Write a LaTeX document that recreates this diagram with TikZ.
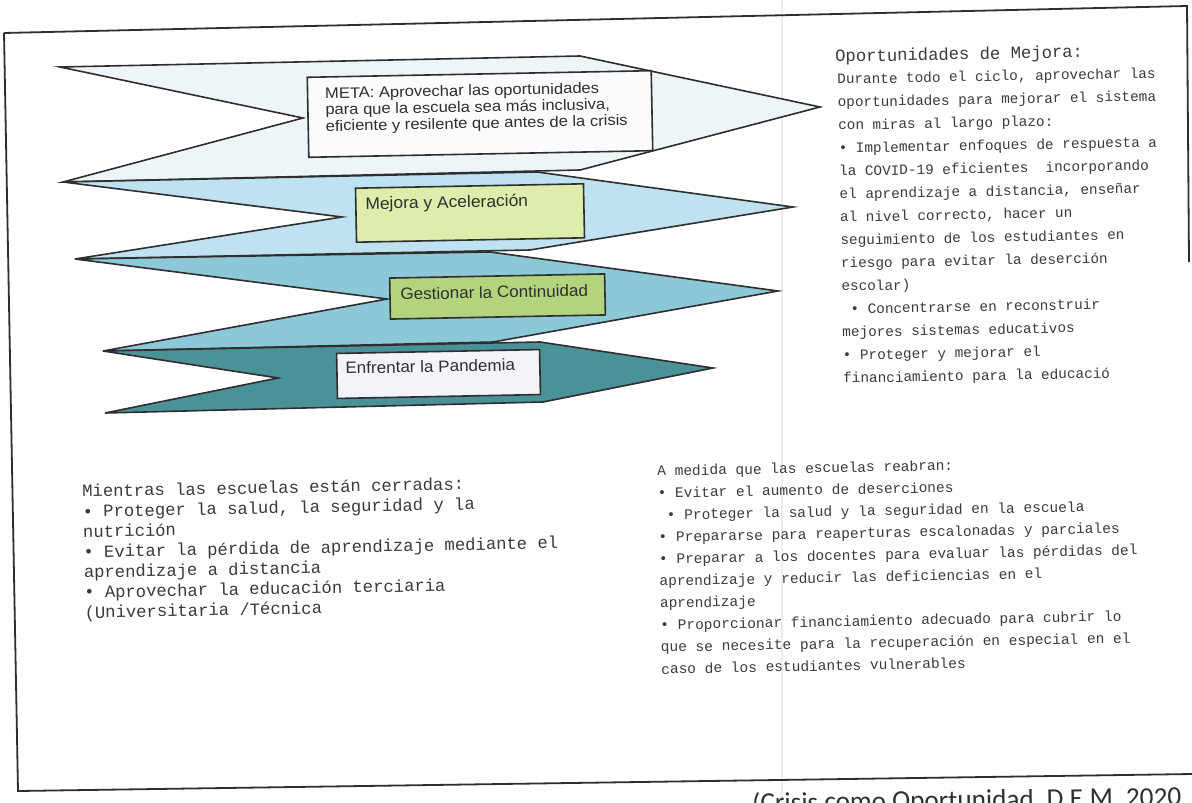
\documentclass[tikz,border=0pt]{standalone}
\usepackage{fontspec}
\setmainfont{Liberation Sans}
\newfontfamily\monofont{Liberation Mono}
\newfontfamily\citefont{Carlito}
\definecolor{cOne}{HTML}{EEF5F8}
\definecolor{cTwo}{HTML}{BEE2F0}
\definecolor{cThree}{HTML}{8DC8D8}
\definecolor{cFour}{HTML}{4A9298}
\definecolor{gLight}{HTML}{DDEDAB}
\definecolor{gMid}{HTML}{B4D37D}
\definecolor{boxWhite}{HTML}{FBFCF9}
\definecolor{boxLav}{HTML}{F3F4FA}
\definecolor{lineCol}{HTML}{2E2E2E}
\definecolor{txtCol}{HTML}{2F2F2F}
\definecolor{monoCol}{HTML}{3A3A3A}
\definecolor{foldCol}{HTML}{ECECEC}
\tikzset{
  chev/.style={draw=lineCol, line width=0.8pt, line join=miter},
  frameline/.style={draw=lineCol, line width=0.9pt},
  labbox/.style={draw=lineCol, line width=0.8pt, rotate=1.1, inner sep=0pt},
  boxtxt/.style={text=txtCol, rotate=1.1, inner sep=0pt, anchor=west, align=left},
  monobase/.style={text=monoCol, anchor=base west, inner sep=0pt, rotate=1.1},
  trhead/.style={monobase, font=\monofont\fontsize{8.6}{9}\selectfont},
  trline/.style={monobase, font=\monofont\fontsize{7.17}{8}\selectfont},
  blline/.style={monobase, font=\monofont\fontsize{8.6}{9}\selectfont},
  brline/.style={monobase, font=\monofont\fontsize{7.25}{8}\selectfont},
}
\begin{document}
\begin{tikzpicture}[x=0.5pt, y=-0.5pt]
\useasboundingbox (0,0) rectangle (1192,802);
\clip (0,0) rectangle (1192,802);
\fill[white] (0,0) rectangle (1192,802);
% scan fold
\draw[foldCol, line width=1.2pt] (782,0) -- (782,802);
% outer frame
\draw[frameline] (4,33) -- (1187,6) -- (1189,262);
\draw[frameline] (4,33) -- (18,791) -- (1192,774);
% chevrons
\draw[chev, fill=cOne] (60,67) -- (580,56) -- (820,107) -- (580,170) -- (63,182) -- (303,118) -- cycle;
\draw[chev, fill=cTwo] (63,182) -- (537,172) -- (793,207) -- (530,250) -- (75,259) -- (342,217) -- cycle;
\draw[chev, fill=cThree] (75,259) -- (490,252) -- (778,291) -- (493,342) -- (103,351) -- (387,299) -- cycle;
\draw[chev, fill=cFour] (103,351) -- (540,342) -- (713,368) -- (543,402) -- (105,413) -- (278,378) -- cycle;
% boxes
\node[labbox, fill=boxWhite, minimum width=172pt, minimum height=40pt] (meta) at (480,114) {};
\node[labbox, fill=gLight, minimum width=114pt, minimum height=27pt] (mejora) at (470,213) {};
\node[labbox, fill=gMid, minimum width=107.5pt, minimum height=20.5pt] (gestionar) at (497.5,296.5) {};
\node[labbox, fill=boxLav, minimum width=101.5pt, minimum height=22.5pt] (enfrentar) at (438.5,374) {};
\node[boxtxt, xscale=1.09, font=\fontsize{7.6}{8.2}\selectfont] (metaT) at (325,111) {META: Aprovechar las oportunidades\\para que la escuela sea más inclusiva,\\eficiente y resilente que antes de la crisis};
\node[boxtxt, xscale=1.05, font=\fontsize{8.3}{9}\selectfont] (mejoraT) at (365,205) {Mejora y Aceleración};
\node[boxtxt, xscale=1.04, font=\fontsize{8.2}{9}\selectfont] (gestionarT) at (400,294) {Gestionar la Continuidad};
\node[boxtxt, xscale=1.04, font=\fontsize{8.2}{9}\selectfont] (enfrentarT) at (345,368) {Enfrentar la Pandemia};
% top right text
\node[trhead] (trh) at (835,62) {Oportunidades de Mejora:};
\foreach \t [count=\i from 0] in {
 {Durante todo el ciclo, aprovechar las},
 {oportunidades para mejorar el sistema},
 {con miras al largo plazo:},
 {• Implementar enfoques de respuesta a},
 {la COVID-19 eficientes\ \ incorporando},
 {el aprendizaje a distancia, enseñar},
 {al nivel correcto, hacer un},
 {seguimiento de los estudiantes en},
 {riesgo para evitar la deserción},
 {escolar)},
 {\hphantom{x}• Concentrarse en reconstruir},
 {mejores sistemas educativos},
 {• Proteger y mejorar el},
 {financiamiento para la educació}}
 {\node[trline] (tr\i) at ({837+0.46*\i},{84+23*\i}) {\t};}
% bottom left text
\foreach \t [count=\i from 0] in {
 {Mientras las escuelas están cerradas:},
 {• Proteger la salud, la seguridad y la},
 {nutrición},
 {• Evitar la pérdida de aprendizaje mediante el},
 {aprendizaje a distancia},
 {• Aprovechar la educación terciaria},
 {(Universitaria /Técnica}}
 {\node[blline] (bl\i) at ({82+0.4*\i},{497+20.2*\i}) {\t};}
% bottom right text
\foreach \t [count=\i from 0] in {
 {A medida que las escuelas reabran:},
 {• Evitar el aumento de deserciones},
 {\hphantom{x}• Proteger la salud y la seguridad en la escuela},
 {• Prepararse para reaperturas escalonadas y parciales},
 {• Preparar a los docentes para evaluar las pérdidas del},
 {aprendizaje y reducir las deficiencias en el},
 {aprendizaje},
 {• Proporcionar financiamiento adecuado para cubrir lo},
 {que se necesite para la recuperación en especial en el},
 {caso de los estudiantes vulnerables}}
 {\node[brline] (br\i) at ({657+0.44*\i},{476+22*\i}) {\t};}
% citation (cut by the page edge)
\node[font=\citefont\fontsize{13.6}{14}\selectfont, text=txtCol, anchor=base west, inner sep=0pt, rotate=0.85] (cite) at (752,812) {(Crisis como Oportunidad, D.E.M. 2020};
\end{tikzpicture}
\end{document}
